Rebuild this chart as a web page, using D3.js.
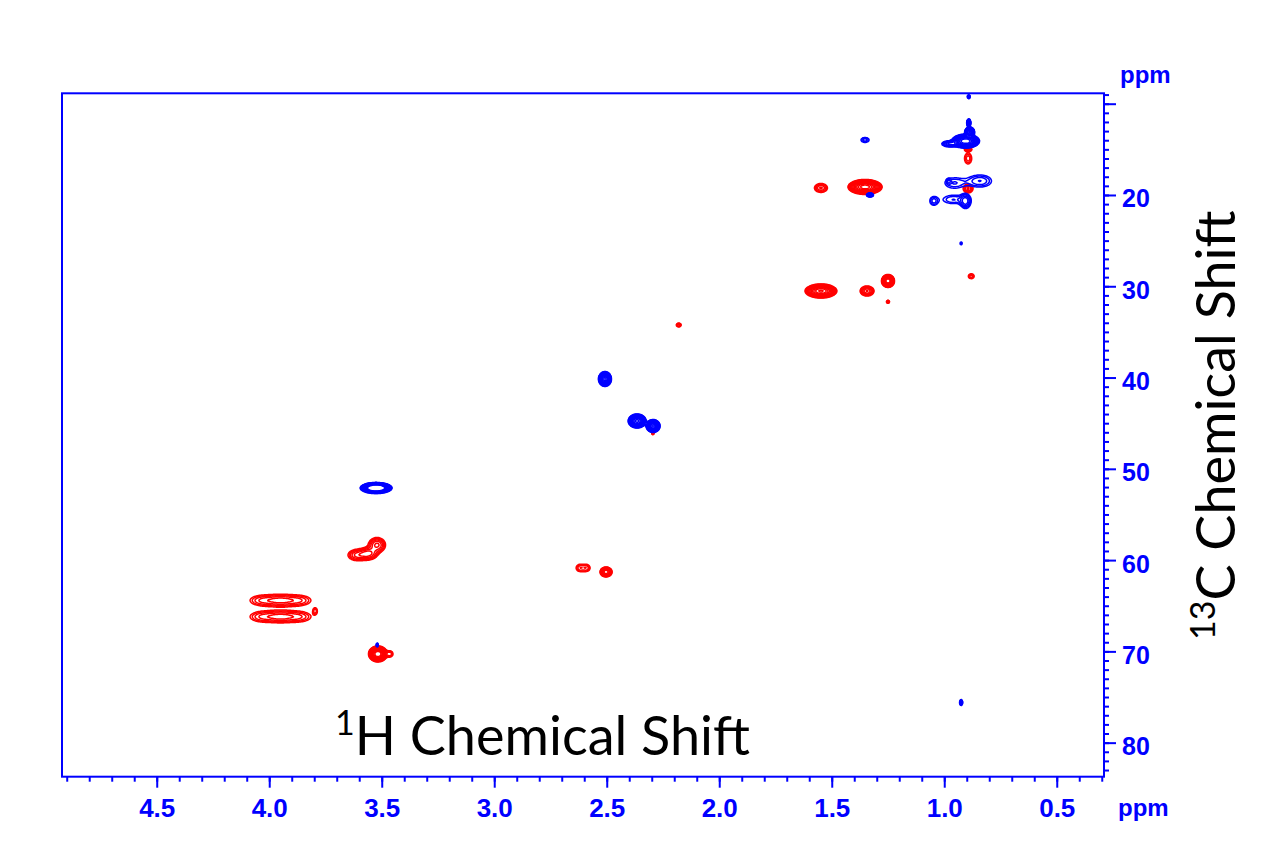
<!DOCTYPE html>
<html><head><meta charset="utf-8">
<script src="https://cdn.jsdelivr.net/npm/d3@7"></script>
<style>html,body{margin:0;padding:0;background:#fff;}</style>
</head><body>
<svg id="chart" width="1280" height="857"></svg>
<script>
// ---- axis data ----
const xMajorTicks = [4.5, 4.0, 3.5, 3.0, 2.5, 2.0, 1.5, 1.0, 0.5];
const yMajorTicks = [10, 20, 30, 40, 50, 60, 70, 80];
const yLabelledTicks = [20, 30, 40, 50, 60, 70, 80];
const xDomain = [4.921, 0.290];
const yDomain = [8.86, 83.73];
const xTitle = "H Chemical Shift", xTitleSup = "1";
const yTitle = "C Chemical Shift", yTitleSup = "13";
const unitLabel = "ppm";

// ---- peaks: blue phase (1H ppm, 13C ppm, half-width H, half-width C, intensity) ----
const blueH   = [0.891, 0.891, 0.905, 0.975, 0.887, 1.352, 1.33, 0.956, 0.841, 0.960, 0.905, 1.047, 0.980, 0.925, 0.925, 2.508, 2.365, 2.294, 3.525, 3.52];
const blueC   = [9.23, 12.1, 14.1, 14.4, 13.1, 13.97, 20.0, 18.69, 18.47, 20.5, 20.7, 20.66, 18.5, 25.3, 75.6, 40.16, 44.76, 45.31, 52.1, 69.3];
const blueWH  = [0.007, 0.009, 0.062, 0.036, 0.022, 0.018, 0.016, 0.040, 0.051, 0.044, 0.022, 0.016, 0.005, 0.005, 0.007, 0.029, 0.040, 0.031, 0.071, 0.005];
const blueWC  = [0.22, 0.44, 0.77, 0.33, 0.55, 0.27, 0.22, 0.55, 0.66, 0.44, 0.77, 0.44, 0.16, 0.16, 0.33, 0.82, 0.77, 0.71, 0.60, 0.22];
const blueAmp = [2, 8, 25, 4, 15, 2, 5, 1.7, 2.2, 1.7, 3, 1.8, 1.5, 1.5, 3, 20, 20, 20, 60, 2];

// ---- peaks: red phase ----
const redH   = [0.894, 0.894, 1.548, 1.352, 0.894, 1.548, 1.343, 1.25, 1.25, 0.88, 2.18, 2.295, 3.61, 3.56, 3.521, 2.62, 2.59, 2.503, 4.03, 3.95, 3.87, 4.03, 3.95, 3.87, 3.796, 3.517, 3.463];
const redC   = [15.0, 16.0, 19.23, 19.12, 19.29, 30.52, 30.52, 29.42, 31.7, 28.9, 34.24, 46.1, 59.45, 59.3, 58.34, 60.86, 60.86, 61.3, 64.42, 64.42, 64.42, 66.2, 66.2, 66.2, 65.57, 70.28, 70.28];
const redWH  = [0.016, 0.016, 0.029, 0.076, 0.022, 0.071, 0.031, 0.029, 0.007, 0.013, 0.011, 0.005, 0.040, 0.040, 0.038, 0.016, 0.016, 0.027, 0.055, 0.055, 0.055, 0.055, 0.055, 0.055, 0.009, 0.042, 0.013];
const redWC  = [0.22, 0.60, 0.49, 0.82, 0.49, 0.77, 0.55, 0.71, 0.16, 0.27, 0.22, 0.16, 0.60, 0.66, 0.82, 0.38, 0.38, 0.55, 0.55, 0.60, 0.55, 0.55, 0.60, 0.55, 0.33, 0.88, 0.33];
const redAmp = [6, 2, 3, 22, 3, 19, 5, 25, 3, 2, 2, 3, 3, 4, 4, 2, 2, 8, 2.2, 2.6, 2.2, 2.2, 2.6, 2.2, 2, 25, 2];

// ---- contour levels (geometric) ----
const levelBase = 1, levelFactor = 1.3, levelCount = 12;

// ---- layout ----
const margin = {left: 62, top: 93.3, right: 1104, bottom: 776.7};
const W = Math.round(margin.right - margin.left), H = Math.round(margin.bottom - margin.top);
const svg = d3.select("#chart");
const x = d3.scaleLinear().domain(xDomain).range([margin.left, margin.right]);
const y = d3.scaleLinear().domain(yDomain).range([margin.top, margin.bottom]);
const BLUE = "#0000ff", RED = "#ff0000";

// build field on a pixel grid
function field(Hs, Cs, WHs, WCs, As) {
  const v = new Float64Array(W * H);
  const colPpm = d3.range(W).map(i => x.invert(margin.left + i + 0.5));
  const rowPpm = d3.range(H).map(j => y.invert(margin.top + j + 0.5));
  for (let k = 0; k < Hs.length; k++) {
    const A = As[k];
    const f = Math.sqrt(2 * Math.log(Math.max(A, 1.05)));
    const sH = WHs[k] / f, sC = WCs[k] / f;
    const px = x(Hs[k]) - margin.left, py = y(Cs[k]) - margin.top;
    const rx = Math.abs(x(Hs[k] + 4 * sH) - x(Hs[k])) + 2;
    const ry = Math.abs(y(Cs[k] + 4 * sC) - y(Cs[k])) + 2;
    const i0 = Math.max(0, Math.floor(px - rx)), i1 = Math.min(W - 1, Math.ceil(px + rx));
    const j0 = Math.max(0, Math.floor(py - ry)), j1 = Math.min(H - 1, Math.ceil(py + ry));
    for (let j = j0; j <= j1; j++) {
      const dc = (rowPpm[j] - Cs[k]) / sC;
      for (let i = i0; i <= i1; i++) {
        const dh = (colPpm[i] - Hs[k]) / sH;
        v[j * W + i] += A * Math.exp(-0.5 * (dh * dh + dc * dc));
      }
    }
  }
  return v;
}
const levels = d3.range(levelCount).map(n => levelBase * Math.pow(levelFactor, n));
const path = d3.geoPath();
const gPeaks = svg.append("g").attr("transform", `translate(${margin.left},${margin.top})`);
[[redH, redC, redWH, redWC, redAmp, RED], [blueH, blueC, blueWH, blueWC, blueAmp, BLUE]].forEach(([Hs, Cs, WHs, WCs, As, col]) => {
  const vals = field(Hs, Cs, WHs, WCs, As);
  const cs = d3.contours().size([W, H]).thresholds(levels)(vals);
  gPeaks.append("g").selectAll("path").data(cs).join("path")
    .attr("d", path).attr("fill", "none").attr("stroke", col)
    .attr("stroke-width", 1.5).attr("stroke-linejoin", "round");
});

// frame
svg.append("rect").attr("x", margin.left).attr("y", margin.top)
  .attr("width", margin.right - margin.left).attr("height", margin.bottom - margin.top)
  .attr("fill", "none").attr("stroke", BLUE).attr("stroke-width", 2);

// bottom axis
const xMinor = d3.range(49, 2, -1).map(d => d / 10);
svg.append("g").attr("transform", `translate(0,${margin.bottom})`)
  .call(d3.axisBottom(x).tickValues(xMinor).tickSize(5).tickFormat(""))
  .call(g => g.select(".domain").remove())
  .selectAll("line").attr("stroke", BLUE).attr("stroke-width", 2);
const gxa = svg.append("g").attr("transform", `translate(0,${margin.bottom})`)
  .call(d3.axisBottom(x).tickValues(xMajorTicks).tickSize(11).tickFormat(d3.format(".1f")));
gxa.select(".domain").remove();
gxa.selectAll("line").attr("stroke", BLUE).attr("stroke-width", 2);
gxa.selectAll("text").attr("fill", BLUE).attr("y", 40).attr("dy", null)
  .style("font-family", "'Liberation Sans', Arial, sans-serif").style("font-weight", "bold").style("font-size", "26px");

// right axis
const yMinor = d3.range(9, 84, 1);
svg.append("g").attr("transform", `translate(${margin.right},0)`)
  .call(d3.axisRight(y).tickValues(yMinor).tickSize(5).tickFormat(""))
  .call(g => g.select(".domain").remove())
  .selectAll("line").attr("stroke", BLUE).attr("stroke-width", 2);
const gya = svg.append("g").attr("transform", `translate(${margin.right},0)`)
  .call(d3.axisRight(y).tickValues(yMajorTicks).tickSize(12)
    .tickFormat(d => yLabelledTicks.includes(d) ? d : ""));
gya.select(".domain").remove();
gya.selectAll("line").attr("stroke", BLUE).attr("stroke-width", 2);
gya.selectAll("text").attr("fill", BLUE).attr("x", 18).attr("dy", null).attr("y", 12)
  .style("font-family", "'Liberation Sans', Arial, sans-serif").style("font-weight", "bold").style("font-size", "25px");

// unit labels
const unitStyle = s => s.attr("fill", BLUE).style("font-family", "'Liberation Sans', Arial, sans-serif")
  .style("font-weight", "bold").style("font-size", "24px");
svg.append("text").attr("x", 1120).attr("y", 82.5).text(unitLabel).call(unitStyle);
svg.append("text").attr("x", 1118).attr("y", 816).text(unitLabel).call(unitStyle);

// titles
const titleFont = "Lato, 'Open Sans', sans-serif";
const tx = svg.append("text").attr("x", 335).attr("y", 755)
  .style("font-family", titleFont).style("font-size", "54px").attr("fill", "#000");
tx.append("tspan").attr("dy", -20).style("font-size", "34px").text(xTitleSup);
tx.append("tspan").attr("dy", 20).text(xTitle);
const ty = svg.append("text").attr("transform", "translate(1235,640) rotate(-90)")
  .style("font-family", titleFont).style("font-size", "54px").attr("fill", "#000");
ty.append("tspan").attr("dy", -20).style("font-size", "34px").text(yTitleSup);
ty.append("tspan").attr("dy", 20).text(yTitle);
</script>
</body></html>
